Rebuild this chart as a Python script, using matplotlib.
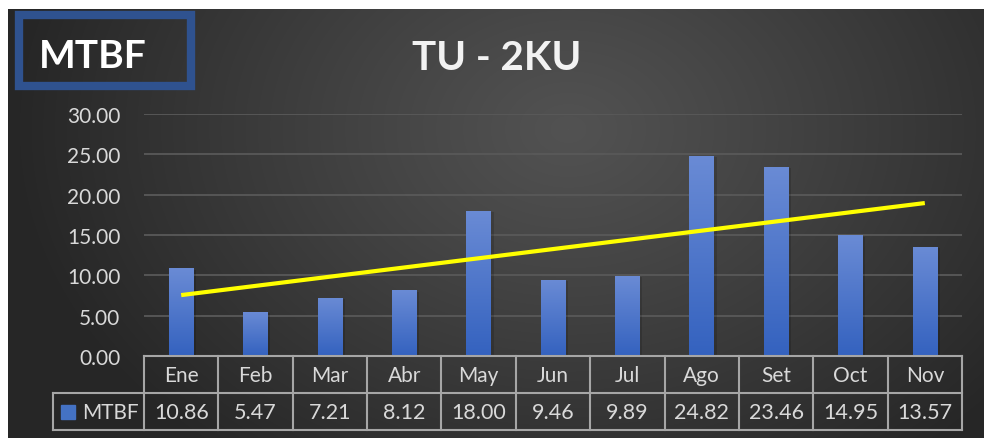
import numpy as np
import matplotlib
matplotlib.use("Agg")
import matplotlib.pyplot as plt
from matplotlib.colors import LinearSegmentedColormap
from matplotlib.patches import Rectangle

plt.rcParams['font.family'] = ['Lato', 'DejaVu Sans']

months = ['Ene', 'Feb', 'Mar', 'Abr', 'May', 'Jun', 'Jul', 'Ago', 'Set', 'Oct', 'Nov']
mtbf = [10.86, 5.47, 7.21, 8.12, 18.00, 9.46, 9.89, 24.82, 23.46, 14.95, 13.57]
series_name = 'MTBF'
chart_title = 'TU - 2KU'

W, H = 984, 439
fig = plt.figure(figsize=(W / 100, H / 100), dpi=100)
fig.patch.set_facecolor('white')

# dark radial background
bg = fig.add_axes([8 / W, 0, (W - 8) / W, (H - 10) / H], zorder=-10)
yy, xx = np.mgrid[0:429, 0:976]
d = np.sqrt(((xx - 560) / 560.0) ** 2 + ((yy - 120) / 420.0) ** 2)
shade = 0x52 - (0x52 - 0x26) * np.clip(d, 0, 1) ** 1.1
img = np.dstack([shade, shade, shade]) / 255.0
bg.imshow(img, aspect='auto', extent=(0, 1, 0, 1), origin='upper')
bg.set_axis_off()

# main plot area
ax = fig.add_axes([144 / W, (H - 357) / H, (962 - 144) / W, (357 - 115) / H])
ax.patch.set_alpha(0)
x = np.arange(len(months))
ax.set_yticks(np.arange(0, 31, 5))
ax.set_yticklabels([f'{v:.2f}' for v in np.arange(0, 31, 5)])
ax.tick_params(axis='y', length=0, pad=17, labelsize=15, labelcolor='#d9d9d9')
ax.set_xticks([])
for s in ax.spines.values():
    s.set_visible(False)
ax.grid(axis='y', color='#595959', lw=1.3, zorder=0)
ax.set_axisbelow(True)

# bars with vertical gradient
bw = 0.33
cmap = LinearSegmentedColormap.from_list('bar', ['#3462bf', '#6a8bd5'])
grad = np.linspace(0, 1, 256).reshape(-1, 1)
for xi, v in zip(x, mtbf):
    ax.add_patch(Rectangle((xi - bw / 2 + 0.035, 0), bw, v - 0.15, color='black',
                           alpha=0.15, lw=0, zorder=1))
    r = Rectangle((xi - bw / 2, 0), bw, v, facecolor='none', lw=0, zorder=2)
    ax.add_patch(r)
    im = ax.imshow(grad, cmap=cmap, aspect='auto', origin='lower',
                   extent=(xi - bw / 2, xi + bw / 2, 0, v), zorder=2)
    im.set_clip_path(r)
ax.set_xlim(-0.5, len(months) - 0.5)
ax.set_ylim(0, 30)

# linear trendline
k, b = np.polyfit(x + 1, mtbf, 1)
ax.plot(x, k * (x + 1) + b, color='#ffff00', lw=3, solid_capstyle='butt', zorder=3)

# data table below the axis
tr = ax.get_xaxis_transform()
lc = '#a6a6a6'
r1, r2 = -0.153, -0.306
xl = -0.5 - 91 / 74.36
n = len(months)
kw = dict(color=lc, lw=1.5, transform=tr, clip_on=False, zorder=4)
ax.plot([-0.5, n - 0.5], [0, 0], **kw)
ax.plot([xl, n - 0.5], [r1, r1], **kw)
ax.plot([xl, n - 0.5], [r2, r2], **kw)
for i in range(n + 1):
    ax.plot([i - 0.5, i - 0.5], [0, r2], **kw)
ax.plot([xl, xl], [r1, r2], **kw)
for xi, m, v in zip(x, months, mtbf):
    ax.text(xi, r1 / 2, m, transform=tr, ha='center', va='center',
            fontsize=15, color='#d9d9d9')
    ax.text(xi, (r1 + r2) / 2, f'{v:.2f}', transform=tr, ha='center', va='center',
            fontsize=15.5, color='#d9d9d9')
ax.plot([-0.5 - 76 / 74.36], [(r1 + r2) / 2], marker='s', ms=10.5, color='#4472c4',
        transform=tr, clip_on=False, zorder=5)
ax.text(-0.5 - 62 / 74.36, (r1 + r2) / 2, series_name, transform=tr, ha='left',
        va='center', fontsize=15, color='#d9d9d9')

# title and label box
fig.text(497 / W, (H - 58) / H, chart_title, ha='center', va='center', fontsize=29,
         fontweight='bold', color='#f2f2f2')
fig.patches.append(Rectangle((19 / W, (H - 87) / H), 172 / W, 71 / H, transform=fig.transFigure,
                             facecolor='none', edgecolor='#2f528f', lw=6))
fig.text(93 / W, (H - 57) / H, series_name, ha='center', va='center', fontsize=28,
         fontweight='bold', color='white')

fig.savefig('out.png', dpi=100)
